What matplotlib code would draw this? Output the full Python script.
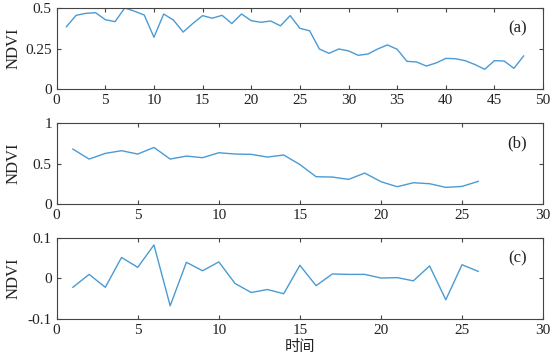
import matplotlib
matplotlib.use('Agg')
import numpy as np
import matplotlib.pyplot as plt
from matplotlib.ticker import FuncFormatter

plt.rcParams['font.family'] = ['Liberation Serif', 'Noto Sans CJK SC']
plt.rcParams['axes.unicode_minus'] = False

# %% data
ndvi_a = [0.385, 0.455, 0.467, 0.471, 0.428, 0.416, 0.500, 0.480, 0.457, 0.320,
          0.463, 0.426, 0.352, 0.405, 0.453, 0.437, 0.455, 0.404, 0.463, 0.422,
          0.412, 0.420, 0.390, 0.453, 0.375, 0.360, 0.248, 0.221, 0.248, 0.236,
          0.209, 0.217, 0.248, 0.273, 0.246, 0.172, 0.168, 0.143, 0.162, 0.190,
          0.188, 0.176, 0.152, 0.123, 0.176, 0.174, 0.129, 0.205]
ndvi_b = [0.680, 0.557, 0.627, 0.660, 0.619, 0.700, 0.557, 0.594, 0.574, 0.635,
          0.619, 0.615, 0.582, 0.607, 0.490, 0.340, 0.336, 0.307, 0.385, 0.279,
          0.217, 0.266, 0.254, 0.209, 0.221, 0.283]
ndvi_c = [-0.022, 0.010, -0.022, 0.052, 0.0275, 0.083, -0.068, 0.040, 0.019, 0.041,
          -0.0125, -0.035, -0.0275, -0.038, 0.0325, -0.018, 0.011, 0.010, 0.010, 0.001,
          0.002, -0.006, 0.031, -0.053, 0.034, 0.0175]

x_a = np.arange(1, len(ndvi_a) + 1)
x_b = np.arange(1, len(ndvi_b) + 1)
x_c = np.arange(1, len(ndvi_c) + 1)

yticks_a = [0, 0.25, 0.5]
yticks_b = [0, 0.5, 1]
yticks_c = [-0.1, 0, 0.1]

panels = [(x_a, ndvi_a, (0, 50), (0, 0.5), yticks_a, '(a)', [0.1023, 0.754, 0.878, 0.224]),
          (x_b, ndvi_b, (0, 30), (0, 1), yticks_b, '(b)', [0.1023, 0.437, 0.878, 0.224]),
          (x_c, ndvi_c, (0, 30), (-0.1, 0.1), yticks_c, '(c)', [0.1023, 0.122, 0.878, 0.222])]

line_col = '#4a9bd4'
axis_col = '#444444'

fig = plt.figure(figsize=(5.54, 3.63), dpi=100)

for xs, ys, xl, yl, yt, lab, pos in panels:
    ax = fig.add_axes(pos)
    ax.plot(xs, ys, color=line_col, lw=1.0)
    ax.set_xlim(*xl)
    ax.set_ylim(*yl)
    ax.set_xticks(np.arange(xl[0], xl[1] + 1, 5))
    ax.set_yticks(yt)
    ax.yaxis.set_major_formatter(FuncFormatter(lambda v, p: ('%g' % v)))
    ax.tick_params(direction='in', top=True, right=True, length=3, width=0.8,
                   colors=axis_col, labelsize=11, labelcolor='#222222')
    for sp in ax.spines.values():
        sp.set_color(axis_col)
        sp.set_linewidth(0.8)
    ax.set_ylabel('NDVI', fontsize=12, color='#222222')
    ax.yaxis.set_label_coords(-0.073, 0.5)
    ax.text(0.967, 0.75, lab, transform=ax.transAxes, ha='right', va='center',
            fontsize=12, color='#222222')
    last_ax = ax

last_ax.set_xlabel('时间', fontsize=11, color='#222222', labelpad=1,
                   family=['Noto Sans CJK SC', 'DejaVu Sans'])

fig.savefig('out.png', dpi=100)
